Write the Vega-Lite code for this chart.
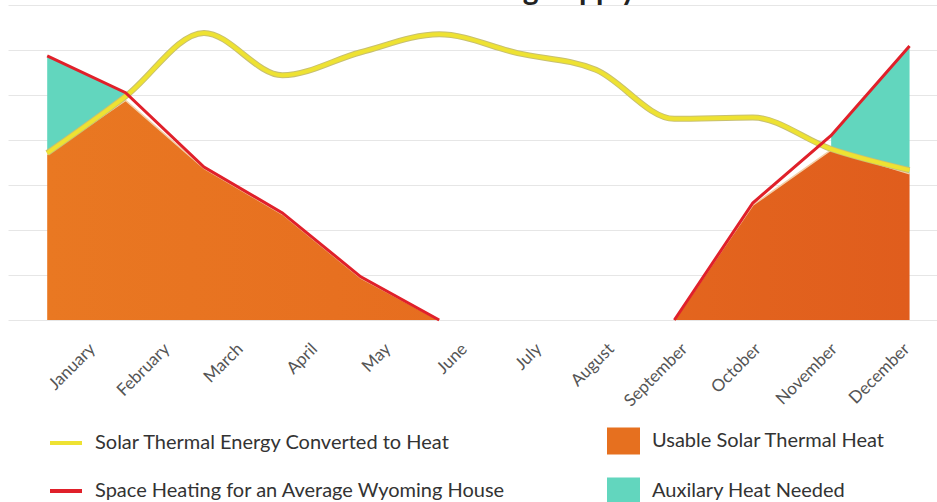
{
  "$schema": "https://vega.github.io/schema/vega-lite/v6.json",
  "width": 929,
  "height": 315,
  "autosize": {"type": "none"},
  "padding": {"left": 8, "top": 5, "right": 0, "bottom": 182},
  "background": "white",
  "title": {
    "text": "Solar Thermal Heating Supply and Demand",
    "font": "Lato",
    "fontSize": 30,
    "fontWeight": "bold",
    "color": "#222222",
    "baseline": "alphabetic",
    "offset": 0,
    "dy": 25,
    "dx": 55
  },
  "config": {
    "view": {"stroke": null},
    "font": "Lato"
  },
  "data": {
    "values": [
      {"month": "January", "m": 1, "solar": 3.71, "heating": 5.87, "usable": 3.68, "aux_hi": 5.87, "aux_lo": 3.68},
      {"month": "February", "m": 2, "solar": 4.97, "heating": 5.05, "usable": 4.88, "aux_hi": 5.05, "aux_lo": 4.88},
      {"month": "March", "m": 3, "solar": 6.38, "heating": 3.4, "usable": 3.37, "aux_hi": null, "aux_lo": null},
      {"month": "April", "m": 4, "solar": 5.44, "heating": 2.38, "usable": 2.35, "aux_hi": null, "aux_lo": null},
      {"month": "May", "m": 5, "solar": 5.95, "heating": 0.96, "usable": 0.93, "aux_hi": null, "aux_lo": null},
      {"month": "June", "m": 6, "solar": 6.35, "heating": 0, "usable": 0, "aux_hi": null, "aux_lo": null},
      {"month": "July", "m": 7, "solar": 5.93, "heating": null, "usable": null, "aux_hi": null, "aux_lo": null},
      {"month": "August", "m": 8, "solar": 5.56, "heating": null, "usable": null, "aux_hi": null, "aux_lo": null},
      {"month": "September", "m": 9, "solar": 4.47, "heating": 0, "usable": 0, "aux_hi": null, "aux_lo": null},
      {"month": "October", "m": 10, "solar": 4.5, "heating": 2.6, "usable": 2.55, "aux_hi": null, "aux_lo": null},
      {"month": "November", "m": 11, "solar": 3.8, "heating": 4.1, "usable": 3.78, "aux_hi": 4.1, "aux_lo": 3.78},
      {"month": "December", "m": 12, "solar": 3.33, "heating": 6.09, "usable": 3.25, "aux_hi": 6.09, "aux_lo": 3.25}
    ]
  },
  "encoding": {
    "x": {
      "field": "m",
      "type": "quantitative",
      "scale": {"domain": [0.5, 12.35], "nice": false, "zero": false},
      "axis": {
        "title": null,
        "values": [1, 2, 3, 4, 5, 6, 7, 8, 9, 10, 11, 12],
        "labelExpr": "['January','February','March','April','May','June','July','August','September','October','November','December'][datum.value - 1]",
        "labelAngle": -45,
        "labelAlign": "right",
        "labelBaseline": "middle",
        "labelPadding": 26,
        "labelOffset": {
          "condition": [
            {"test": "datum.value == 1", "value": 45},
            {"test": "datum.value == 2", "value": 41},
            {"test": "datum.value == 3", "value": 36},
            {"test": "datum.value == 4", "value": 32},
            {"test": "datum.value == 5", "value": 27},
            {"test": "datum.value == 6", "value": 25},
            {"test": "datum.value == 7", "value": 21},
            {"test": "datum.value == 8", "value": 15},
            {"test": "datum.value == 9", "value": 10},
            {"test": "datum.value == 10", "value": 5},
            {"test": "datum.value == 11", "value": 3}
          ],
          "value": -3
        },
        "labelFont": "Lato",
        "labelFontSize": 17,
        "labelColor": "#555555",
        "labelOverlap": false,
        "labelFlush": false,
        "ticks": false,
        "domain": false,
        "grid": false
      }
    }
  },
  "layer": [
    {
      "mark": {"type": "area", "interpolate": "linear"},
      "encoding": {
        "y": {
          "field": "aux_hi",
          "type": "quantitative",
          "scale": {"domain": [0, 7], "nice": false},
          "axis": {
            "title": null,
            "values": [0, 1, 2, 3, 4, 5, 6, 7],
            "labels": false,
            "ticks": false,
            "domain": false,
            "grid": true,
            "gridColor": "#e6e6e6",
            "gridWidth": 1
          }
        },
        "y2": {"field": "aux_lo"},
        "fill": {
          "datum": "Auxilary Heat Needed",
          "type": "nominal",
          "scale": {
            "domain": ["Usable Solar Thermal Heat", "Auxilary Heat Needed"],
            "range": ["#E6701F", "#62D6BE"]
          },
          "legend": {
            "title": null,
            "orient": "none",
            "legendX": 599,
            "legendY": 419.5,
            "padding": 0,
            "direction": "vertical",
            "symbolType": "M-1,-0.82H1V0.82H-1Z",
            "symbolSize": 1089,
            "symbolStrokeWidth": 0,
            "symbolOpacity": 1,
            "labelOffset": 12,
            "rowPadding": 19,
            "labelFont": "Lato",
            "labelFontSize": 20,
            "labelColor": "#333333",
            "labelLimit": 400
          }
        }
      }
    },
    {
      "mark": {
        "type": "area",
        "interpolate": "linear",
        "fill": {
          "gradient": "linear",
          "x1": 0, "y1": 0, "x2": 1, "y2": 0,
          "stops": [
            {"offset": 0, "color": "#E97822"},
            {"offset": 0.5, "color": "#E66C1F"},
            {"offset": 1, "color": "#E05D1D"}
          ]
        }
      },
      "encoding": {
        "y": {"field": "usable", "type": "quantitative"}
      }
    },
    {
      "mark": {"type": "line", "interpolate": "linear", "color": "#f3cfa8", "strokeWidth": 1.5},
      "encoding": {
        "y": {"field": "usable", "type": "quantitative"}
      }
    },
    {
      "mark": {"type": "line", "interpolate": "monotone", "color": "#c8c070", "strokeWidth": 6},
      "encoding": {
        "y": {"field": "solar", "type": "quantitative"}
      }
    },
    {
      "mark": {"type": "line", "interpolate": "monotone", "strokeWidth": 4},
      "encoding": {
        "y": {"field": "solar", "type": "quantitative"},
        "stroke": {
          "datum": "Solar Thermal Energy Converted to Heat",
          "type": "nominal",
          "scale": {
            "domain": ["Solar Thermal Energy Converted to Heat", "Space Heating for an Average Wyoming House"],
            "range": ["#EEE232", "#E0202A"]
          },
          "legend": {
            "title": null,
            "orient": "none",
            "legendX": 40,
            "legendY": 420,
            "padding": 0,
            "direction": "vertical",
            "symbolType": "stroke",
            "symbolSize": 1024,
            "symbolStrokeWidth": 4,
            "labelOffset": 11,
            "rowPadding": 20,
            "labelFont": "Lato",
            "labelFontSize": 20,
            "labelColor": "#333333",
            "labelLimit": 500
          }
        }
      }
    },
    {
      "mark": {"type": "line", "interpolate": "linear", "strokeWidth": 3},
      "encoding": {
        "y": {"field": "heating", "type": "quantitative"},
        "stroke": {"datum": "Space Heating for an Average Wyoming House", "type": "nominal"}
      }
    }
  ]
}
